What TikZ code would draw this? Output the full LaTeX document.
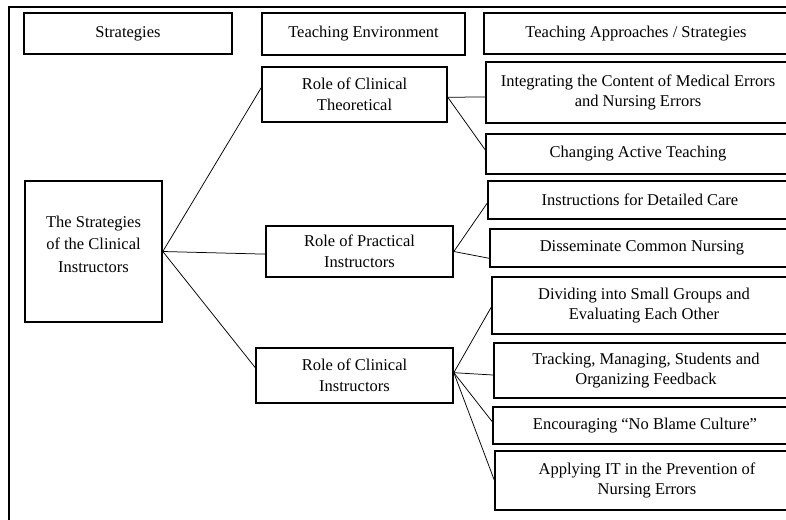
\documentclass[tikz,border=0pt]{standalone}
\usepackage{fontspec}
\setmainfont{Liberation Serif}
\usetikzlibrary{calc}
\begin{document}
\begin{tikzpicture}[x=1pt,y=-1pt,
  txt/.style={align=center, inner sep=0pt, font=\fontsize{16.5}{20.5}\selectfont},
  box/.style={txt, draw, line width=1.6pt},
  wbox/.style={box, minimum width=304pt},
  link/.style={line width=0.75pt}]
\useasboundingbox (0,0) rectangle (786,519);
\clip (0,0) rectangle (786,519);
\draw[line width=1.6pt] (9,7) rectangle (820,540);
% headers
\node[box, minimum width=208pt, minimum height=41pt] (h1) at (128,33.5) {Strategies};
\node[box, minimum width=203pt, minimum height=42pt] (h2) at (363.5,34) {Teaching Environment};
\node[wbox, minimum height=41pt] (h3) at (636,33.5) {Teaching Approaches / Strategies};
% main
\node[box, minimum width=137pt, minimum height=141pt] (m) at (93.5,251.5) {};
\node[txt, font=\fontsize{16.5}{22.5}\selectfont] (mt) at (93.5,244) {The Strategies\\of the Clinical\\Instructors};
% roles
\node[box, minimum width=185pt, minimum height=55pt] (r1) at (354.5,94.5) {Role of Clinical\\Theoretical};
\node[box, minimum width=187pt, minimum height=51pt] (r2) at (359.5,251.5) {Role of Practical\\Instructors};
\node[box, minimum width=197pt, minimum height=55pt] (r3) at (354.5,375.5) {Role of Clinical\\Instructors};
% approaches
\node[wbox, minimum height=61pt] (a1) at (638,92.5) {Integrating the Content of Medical Errors\\and Nursing Errors};
\node[wbox, minimum height=40pt] (a2) at (638,154) {Changing Active Teaching};
\node[wbox, minimum height=38pt] (a3) at (640,200) {Instructions for Detailed Care};
\node[wbox, minimum height=38pt] (a4) at (642,248) {Disseminate Common Nursing};
\node[wbox, minimum height=57pt] (a5) at (644,305.5) {Dividing into Small Groups and\\Evaluating Each Other};
\node[wbox, minimum height=55pt] (a6) at (646,370.5) {Tracking, Managing, Students and\\Organizing Feedback};
\node[wbox, minimum height=37pt] (a7) at (645,425.5) {Encouraging “No Blame Culture”};
\node[wbox, minimum height=59pt] (a8) at (647,480.5) {Applying IT in the Prevention of\\Nursing Errors};
% connectors
\draw[link] (m.east) -- ($(r1.north west)!0.38!(r1.south west)$);
\draw[link] (m.east) -- ($(r2.north west)!0.55!(r2.south west)$);
\draw[link] (m.east) -- ($(r3.north west)!0.36!(r3.south west)$);
\coordinate (s1) at ($(r1.north east)!0.55!(r1.south east)$);
\draw[link] (s1) -- ($(a1.north west)!0.57!(a1.south west)$);
\draw[link] (s1) -- ($(a2.north west)!0.4!(a2.south west)$);
\draw[link] (r2.east) -- ($(a3.north west)!0.58!(a3.south west)$);
\draw[link] (r2.east) -- ($(a4.north west)!0.76!(a4.south west)$);
\coordinate (s3) at ($(r3.north east)!0.45!(r3.south east)$);
\draw[link] (s3) -- ($(a5.north west)!0.53!(a5.south west)$);
\draw[link] (s3) -- ($(a6.north west)!0.58!(a6.south west)$);
\draw[link] (s3) -- ($(a7.north west)!0.4!(a7.south west)$);
\draw[link] (s3) -- ($(a8.north west)!0.49!(a8.south west)$);
\end{tikzpicture}
\end{document}
